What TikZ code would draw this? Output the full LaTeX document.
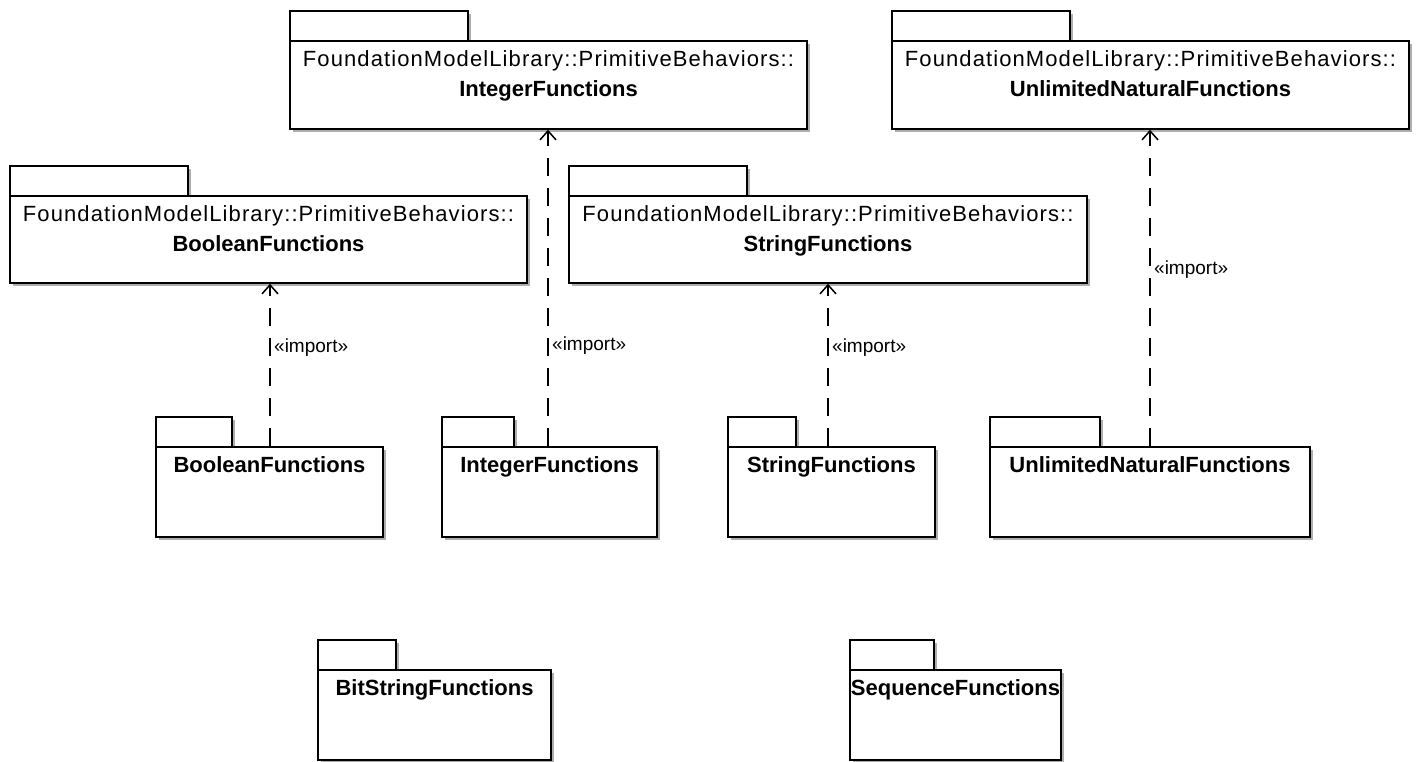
\documentclass[tikz,border=0pt]{standalone}
\usepackage{fontspec}
\setmainfont{Liberation Sans}
\usetikzlibrary{fit,shadows,arrows.meta,calc}
\begin{document}
\begin{tikzpicture}[x=1pt,y=-1pt,
  pkgshape/.style={draw=black, line width=1.5pt, fill=white, inner sep=0pt,
    drop shadow={shadow xshift=3pt, shadow yshift=-3pt, fill=black!45, opacity=0.7}},
  qual/.style={font=\fontsize{22}{26}\selectfont\addfontfeature{LetterSpace=5}, inner sep=0pt, anchor=base},
  pname/.style={font=\fontsize{22}{26}\selectfont\bfseries, inner sep=0pt, anchor=base},
  imp/.style={draw=black, line width=1.5pt, dash pattern=on 18pt off 12pt,
    -{Straight Barb[length=9pt,width=16pt,line width=1.5pt]}},
  implabel/.style={font=\fontsize{19}{22}\selectfont, inner sep=0pt, anchor=west}]
\useasboundingbox (0,0) rectangle (1421,762);
\newcommand\pkgbox[6]{%
  \node[pkgshape, fit={(#2,#3-30) (#6,#3)}] (#1tab) {};
  \node[pkgshape, fit={(#2,#3) (#4,#5)}] (#1) {};
}
% upper packages
\pkgbox{p1}{10}{196}{527}{283}{188}
\pkgbox{p2}{290}{41}{807}{129}{468}
\pkgbox{p3}{569}{196}{1087}{283}{747}
\pkgbox{p4}{892}{41}{1409}{129}{1070}
\foreach \p/\n in {p1/BooleanFunctions,p2/IntegerFunctions,p3/StringFunctions,p4/UnlimitedNaturalFunctions}{
  \node[qual] (\p q) at ([yshift=-26pt]\p.north) {FoundationModelLibrary::PrimitiveBehaviors::};
  \node[pname] (\p n) at ([yshift=-56pt]\p.north) {\n};
}
% lower packages
\pkgbox{p5}{156}{447}{383}{537}{232}
\pkgbox{p6}{442}{447}{657}{537}{514}
\pkgbox{p7}{728}{447}{935}{537}{796}
\pkgbox{p8}{990}{447}{1310}{537}{1100}
\pkgbox{p9}{318}{670}{551}{760}{396}
\pkgbox{p10}{850}{670}{1061}{760}{934}
\foreach \p/\n in {p5/BooleanFunctions,p6/IntegerFunctions,p7/StringFunctions,p8/UnlimitedNaturalFunctions,p9/BitStringFunctions,p10/SequenceFunctions}{
  \node[pname] (\p n) at ([yshift=-26pt]\p.north) {\n};
}
% import dependencies
\coordinate (a1) at (270,0);
\coordinate (a2) at (548,0);
\coordinate (a3) at (828,0);
\coordinate (a4) at (1150,0);
\draw[imp] (a1 |- p5.north) -- (a1 |- p1.south);
\draw[imp] (a2 |- p6.north) -- (a2 |- p2.south);
\draw[imp] (a3 |- p7.north) -- (a3 |- p3.south);
\draw[imp] (a4 |- p8.north) -- (a4 |- p4.south);
\node[implabel] (l1) at (274,348) {«import»};
\node[implabel] (l2) at (552,346) {«import»};
\node[implabel] (l3) at (832,348) {«import»};
\node[implabel] (l4) at (1154,270) {«import»};
\end{tikzpicture}
\end{document}
